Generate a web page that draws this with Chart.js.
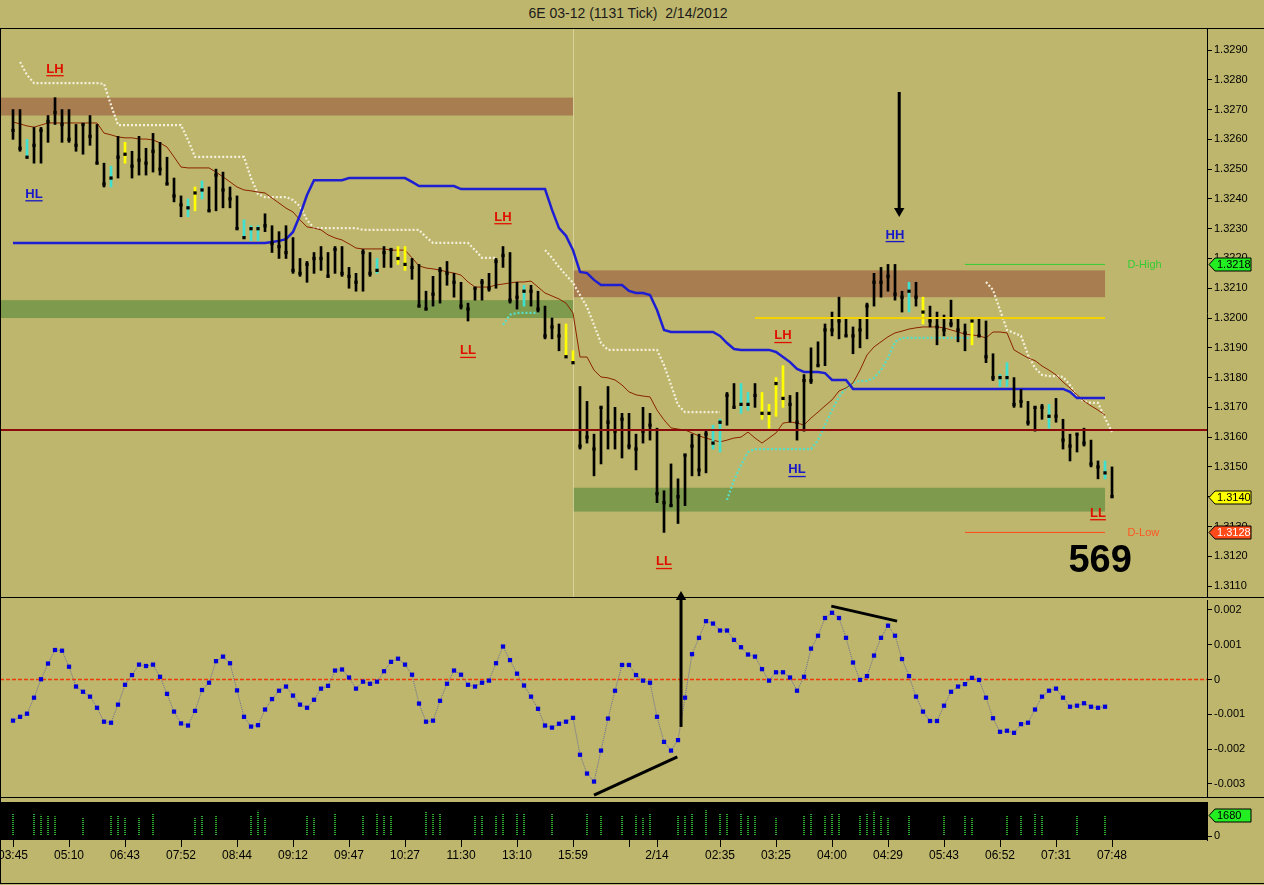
<!DOCTYPE html>
<html>
<head>
<meta charset="utf-8">
<script src="https://cdn.jsdelivr.net/npm/chart.js@4.4.1/dist/chart.umd.min.js"></script>
<style>
body{margin:0;background:#BDB66C;width:1264px;height:885px;overflow:hidden;position:relative;font-family:"Liberation Sans",Arial,sans-serif}
canvas{position:absolute;left:0}
#title{position:absolute;top:5px;left:-4px;width:1264px;text-align:center;font-size:14px;color:#1a1a1a;white-space:pre}
.hl{position:absolute;left:0;width:1264px;height:1px;background:#000}
.vl{position:absolute;left:0;top:28px;width:1px;height:856px;background:#000}
</style>
</head>
<body>
<div id="title">6E 03-12 (1131 Tick)  2/14/2012</div>
<canvas id="price" width="1264" height="570" style="top:28px"></canvas>
<canvas id="osc" width="1264" height="212" style="top:588px"></canvas>
<canvas id="vol" width="1264" height="87" style="top:798px"></canvas>
<div class="hl" style="top:28px"></div>
<div class="hl" style="top:597px"></div>
<div class="hl" style="top:797px"></div>
<div class="hl" style="top:883px"></div>
<div class="vl"></div>
<script>
const N = null;

//-----EJE X (una barra por índice)
const xMin = -1.86, xMax = 170.57;
const xTickBars = [0, 8, 16, 24, 32, 40, 48, 56, 64, 72, 80, 88, 92, 101, 109, 117, 125, 133, 141, 149, 157];
const xTickText = ['03:45', '05:10', '06:43', '07:52', '08:44', '09:12', '09:47', '10:27', '11:30', '13:10', '15:59', '',
    '2/14', '02:35', '03:25', '04:00', '04:29', '05:43', '06:52', '07:31', '07:48'];

//-----PRECIOS
const priceTicks = [1.3110, 1.3120, 1.3130, 1.3140, 1.3150, 1.3160, 1.3170, 1.3180, 1.3190, 1.3200,
    1.3210, 1.3220, 1.3230, 1.3240, 1.3250, 1.3260, 1.3270, 1.3280, 1.3290];

const highs = [1.3270,1.3270,1.3260,1.3264,1.3264,1.3268,1.3274,1.3270,1.3270,1.3265,
    1.3265,1.3268,1.3265,1.3252,1.3251,1.3261,1.3259,1.3256,1.3261,1.3257,
    1.3262,1.3259,1.3254,1.3247,1.3241,1.3240,1.3244,1.3246,1.3244,1.3250,
    1.3249,1.3244,1.3241,1.3233,1.3231,1.3231,1.3235,1.3231,1.3229,1.3231,
    1.3227,1.3220,1.3219,1.3222,1.3224,1.3222,1.3224,1.3224,1.3217,1.3215,
    1.3223,1.3222,1.3220,1.3224,1.3223,1.3224,1.3224,1.3220,1.3218,1.3209,
    1.3214,1.3217,1.3219,1.3215,1.3212,1.3205,1.3210,1.3213,1.3215,1.3220,
    1.3224,1.3222,1.3212,1.3211,1.3211,1.3209,1.3204,1.3200,1.3198,1.3198,
    1.3189,1.3177,1.3172,1.3161,1.3170,1.3177,1.3170,1.3168,1.3168,1.3161,
    1.3170,1.3168,1.3163,1.3142,1.3151,1.3146,1.3154,1.3161,1.3161,1.3162,
    1.3164,1.3166,1.3175,1.3178,1.3178,1.3175,1.3178,1.3175,1.3171,1.3180,
    1.3184,1.3174,1.3175,1.3181,1.3190,1.3192,1.3198,1.3202,1.3207,1.3200,
    1.3197,1.3200,1.3205,1.3215,1.3217,1.3218,1.3218,1.3209,1.3212,1.3212,
    1.3207,1.3204,1.3202,1.3201,1.3206,1.3200,1.3198,1.3200,1.3200,1.3199,
    1.3188,1.3181,1.3185,1.3180,1.3176,1.3172,1.3170,1.3171,1.3171,1.3173,
    1.3166,1.3161,1.3161,1.3163,1.3159,1.3152,1.3152,1.3150]

const lows = [1.3260,1.3256,1.3254,1.3252,1.3252,1.3259,1.3265,1.3259,1.3259,1.3256,
    1.3255,1.3258,1.3252,1.3244,1.3244,1.3247,1.3252,1.3247,1.3248,1.3248,
    1.3249,1.3248,1.3245,1.3239,1.3234,1.3234,1.3236,1.3240,1.3236,1.3236,
    1.3237,1.3237,1.3230,1.3227,1.3226,1.3226,1.3229,1.3222,1.3220,1.3220,
    1.3215,1.3214,1.3212,1.3215,1.3216,1.3214,1.3215,1.3214,1.3210,1.3209,
    1.3209,1.3214,1.3215,1.3217,1.3217,1.3218,1.3216,1.3213,1.3204,1.3203,
    1.3204,1.3205,1.3211,1.3207,1.3203,1.3199,1.3206,1.3206,1.3209,1.3210,
    1.3217,1.3205,1.3203,1.3204,1.3204,1.3202,1.3193,1.3193,1.3189,1.3187,
    1.3185,1.3156,1.3158,1.3147,1.3151,1.3156,1.3156,1.3153,1.3156,1.3149,
    1.3158,1.3159,1.3138,1.3128,1.3137,1.3131,1.3137,1.3147,1.3147,1.3148,
    1.3156,1.3155,1.3164,1.3170,1.3168,1.3169,1.3170,1.3166,1.3163,1.3167,
    1.3170,1.3165,1.3159,1.3162,1.3178,1.3184,1.3184,1.3194,1.3193,1.3194,
    1.3188,1.3190,1.3193,1.3204,1.3207,1.3209,1.3206,1.3202,1.3202,1.3204,
    1.3198,1.3197,1.3191,1.3194,1.3197,1.3192,1.3189,1.3191,1.3194,1.3185,
    1.3179,1.3177,1.3177,1.3170,1.3170,1.3164,1.3162,1.3166,1.3163,1.3165,
    1.3156,1.3152,1.3155,1.3157,1.3150,1.3146,1.3146,1.3140]

const closes = [1.3263,1.3257,1.3254,1.3258,1.3263,1.3266,1.3269,1.3265,1.3260,1.3258,
    1.3265,1.3261,1.3252,1.3245,1.3247,1.3254,1.3255,1.3251,1.3253,1.3252,
    1.3256,1.3250,1.3245,1.3241,1.3238,1.3237,1.3242,1.3243,1.3236,1.3248,
    1.3243,1.3240,1.3230,1.3227,1.3230,1.3230,1.3231,1.3225,1.3224,1.3222,
    1.3216,1.3215,1.3218,1.3220,1.3220,1.3214,1.3223,1.3215,1.3214,1.3212,
    1.3222,1.3215,1.3216,1.3222,1.3223,1.3220,1.3218,1.3217,1.3204,1.3203,
    1.3208,1.3216,1.3215,1.3212,1.3204,1.3203,1.3210,1.3212,1.3210,1.3219,
    1.3221,1.3206,1.3207,1.3209,1.3209,1.3203,1.3194,1.3197,1.3194,1.3187,
    1.3185,1.3157,1.3160,1.3156,1.3170,1.3165,1.3162,1.3166,1.3157,1.3156,
    1.3162,1.3164,1.3141,1.3138,1.3137,1.3140,1.3154,1.3157,1.3149,1.3161,
    1.3158,1.3165,1.3174,1.3170,1.3171,1.3171,1.3174,1.3168,1.3168,1.3178,
    1.3173,1.3171,1.3165,1.3179,1.3179,1.3184,1.3196,1.3196,1.3199,1.3194,
    1.3194,1.3196,1.3204,1.3212,1.3212,1.3214,1.3208,1.3207,1.3209,1.3207,
    1.3202,1.3199,1.3197,1.3196,1.3198,1.3196,1.3195,1.3199,1.3194,1.3187,
    1.3180,1.3180,1.3180,1.3171,1.3172,1.3165,1.3170,1.3170,1.3167,1.3167,
    1.3159,1.3157,1.3161,1.3158,1.3151,1.3150,1.3148,1.3140]

const cyanBars = [2, 14, 25, 27, 33, 34, 35, 52, 73, 100, 101, 104, 105, 128, 141, 142, 148, 156];
const yellowBars = [16, 26, 55, 56, 79, 80, 107, 108, 109, 110, 130, 137];

//-----INDICADORES
const blueLine = [1.32252,1.32252,1.32252,1.32252,1.32252,1.32252,1.32252,1.32252,1.32252,1.32252,
    1.32252,1.32252,1.32252,1.32252,1.32252,1.32252,1.32252,1.32252,1.32252,1.32252,
    1.32252,1.32252,1.32252,1.32252,1.32252,1.32252,1.32252,1.32252,1.32252,1.32252,
    1.32252,1.32252,1.32252,1.32252,1.32252,1.32252,1.32252,1.32255,1.32259,1.32265,
    1.32289,1.32346,1.32413,1.32463,1.32463,1.32463,1.32463,1.32463,1.32470,1.32470,
    1.32470,1.32470,1.32470,1.32470,1.32470,1.32470,1.32470,1.32457,1.32443,1.32443,
    1.32443,1.32443,1.32443,1.32443,1.32433,1.32433,1.32433,1.32433,1.32433,1.32433,
    1.32433,1.32433,1.32433,1.32433,1.32433,1.32433,1.32433,1.32363,1.32302,1.32276,
    1.32228,1.32155,1.32151,1.32128,1.32111,1.32111,1.32111,1.32111,1.32091,1.32084,
    1.32084,1.32077,1.32027,1.31960,1.31953,1.31953,1.31953,1.31953,1.31953,1.31953,
    1.31953,1.31940,1.31916,1.31896,1.31893,1.31893,1.31893,1.31893,1.31893,1.31886,
    1.31869,1.31852,1.31829,1.31819,1.31819,1.31819,1.31815,1.31792,1.31792,1.31792,
    1.31762,1.31762,1.31762,1.31762,1.31762,1.31762,1.31762,1.31762,1.31762,1.31762,
    1.31762,1.31762,1.31762,1.31762,1.31762,1.31762,1.31762,1.31762,1.31762,1.31762,
    1.31762,1.31762,1.31762,1.31762,1.31762,1.31762,1.31762,1.31762,1.31762,1.31762,
    1.31762,1.31752,1.31731,1.31731,1.31731,1.31731,1.31731,N]

const maLine = [1.32658,1.32652,1.32645,1.32641,1.32648,1.32655,1.32655,1.32655,1.32655,1.32655,
    1.32655,1.32655,1.32655,1.32621,1.32615,1.32608,1.32605,1.32605,1.32601,1.32601,
    1.32598,1.32588,1.32574,1.32541,1.32507,1.32504,1.32504,1.32504,1.32504,1.32490,
    1.32474,1.32457,1.32440,1.32430,1.32427,1.32423,1.32420,1.32403,1.32386,1.32369,
    1.32356,1.32329,1.32306,1.32302,1.32296,1.32279,1.32269,1.32262,1.32249,1.32235,
    1.32232,1.32232,1.32232,1.32232,1.32228,1.32228,1.32228,1.32202,1.32175,1.32168,
    1.32165,1.32161,1.32155,1.32151,1.32144,1.32121,1.32104,1.32104,1.32104,1.32111,
    1.32114,1.32118,1.32121,1.32121,1.32124,1.32104,1.32084,1.32074,1.32064,1.32050,
    1.32017,1.31869,1.31869,1.31825,1.31802,1.31799,1.31792,1.31775,1.31752,1.31742,
    1.31738,1.31735,1.31691,1.31658,1.31631,1.31627,1.31624,1.31614,1.31604,1.31597,
    1.31590,1.31584,1.31590,1.31597,1.31600,1.31617,1.31597,1.31580,1.31597,1.31614,
    1.31647,1.31651,1.31647,1.31641,1.31664,1.31684,1.31705,1.31725,1.31755,1.31765,
    1.31782,1.31825,1.31876,1.31903,1.31920,1.31937,1.31950,1.31956,1.31963,1.31967,
    1.31970,1.31970,1.31970,1.31967,1.31960,1.31953,1.31946,1.31943,1.31940,1.31933,
    1.31953,1.31953,1.31950,1.31893,1.31879,1.31866,1.31857,1.31839,1.31825,1.31809,
    1.31785,1.31765,1.31742,1.31721,1.31705,1.31691,1.31674,N]

const shortStop = [N,1.32860,1.32816,1.32789,1.32789,1.32789,1.32789,1.32789,1.32789,1.32789,
    1.32789,1.32789,1.32789,1.32786,1.32715,1.32648,1.32648,1.32648,1.32648,1.32648,
    1.32648,1.32648,1.32648,1.32648,1.32648,1.32598,1.32541,1.32541,1.32541,1.32541,
    1.32541,1.32541,1.32541,1.32541,1.32470,1.32416,1.32406,1.32406,1.32406,1.32406,
    1.32396,1.32375,1.32329,1.32302,1.32302,1.32302,1.32302,1.32302,1.32302,1.32302,
    1.32296,1.32296,1.32296,1.32296,1.32296,1.32296,1.32296,1.32296,1.32296,1.32272,
    1.32252,1.32252,1.32252,1.32252,1.32252,1.32252,1.32228,1.32202,1.32202,1.32202,
    N,N,N,N,N,N,1.32228,1.32202,1.32171,1.32144,
    1.32118,1.32077,1.32037,1.31977,1.31916,1.31893,1.31893,1.31893,1.31893,1.31893,
    1.31893,1.31893,1.31893,1.31842,1.31775,1.31708,1.31684,1.31684,1.31684,1.31684,
    1.31684,1.31684,N,N,N,N,N,N,N,N,
    N,N,N,N,N,N,N,N,N,N,
    N,N,N,N,N,N,N,N,N,N,
    N,N,N,N,N,N,N,N,N,1.32121,
    1.32094,1.32027,1.31960,1.31950,1.31940,1.31876,1.31832,1.31809,1.31805,1.31805,
    1.31802,1.31775,1.31735,1.31721,1.31715,1.31715,1.31664,1.31617]

const longStop = [N,N,N,N,N,N,N,N,N,N, N,N,N,N,N,N,N,N,N,N,
    N,N,N,N,N,N,N,N,N,N, N,N,N,N,N,N,N,N,N,N,
    N,N,N,N,N,N,N,N,N,N, N,N,N,N,N,N,N,N,N,N,
    N,N,N,N,N,N,N,N,N,N,
    1.31977,1.32011,1.32017,1.32017,1.32017,1.32017,N,N,N,N,
    N,N,N,N,N,N,N,N,N,N, N,N,N,N,N,N,N,N,N,N,
    N,N,1.31389,1.31456,1.31506,1.31550,1.31560,1.31560,1.31560,1.31560,
    1.31560,1.31560,1.31560,1.31560,1.31560,1.31590,1.31641,1.31691,1.31735,1.31765,
    1.31782,1.31789,1.31789,1.31799,1.31825,1.31866,1.31920,1.31933,1.31933,1.31933,
    1.31933,1.31933,1.31933,1.31933,1.31933,1.31933,1.31933,1.31933,N,N,
    N,N,N,N,N,N,N,N,N,N, N,N,N,N,N,N,N,N]

//-----NIVELES Y ZONAS
const levelPrice = 1.31624;
const pivotPrice = 1.3200, pivotFrom = 106, pivotTo = 156;
const dayLevels = [1.3218, 1.3128];
const dayNames = ['D-High', 'D-Low'];
const dayFrom = 136, dayTo = 156, dayLabelBar = 159.2;
const supplyZones = [[xMin, 80, 1.3268, 1.3274], [80, 156, 1.3207, 1.3216]];
const demandZones = [[xMin, 80, 1.3200, 1.3206], [80, 156, 1.3135, 1.3143]];
const sessionBar = 80;

//-----NOTAS
const noteText = ['LH', 'HL', 'LH', 'LL', 'LH', 'HH', 'HL', 'LL', 'LL'];
const noteBar = [6, 3, 70, 65, 110, 126, 112, 93, 155];
const notePrice = [1.32836, 1.32416, 1.32339, 1.3189, 1.3194, 1.32279, 1.3149, 1.31181, 1.31345];
const countText = '569', countBar = 155.3, countPrice = 1.31181;
const arrowBar = 126.6, arrowFrom = 1.32759, arrowTo = 1.32359;
const priceTags = [1.3218, 1.3140, 1.3128];

//-----OSCILADOR
const oscTicks = [0.002, 0.001, 0, -0.001, -0.002, -0.003];
const osc = [-0.00118,-0.00107,-0.00098,-0.00052,0.00001,0.00046,0.00085,0.00083,0.00037,-0.00020,
    -0.00035,-0.00049,-0.00081,-0.00121,-0.00124,-0.00072,-0.00015,0.00013,0.00043,0.00039,
    0.00043,0.00008,-0.00041,-0.00092,-0.00126,-0.00132,-0.00090,-0.00030,-0.00009,0.00053,
    0.00066,0.00047,-0.00031,-0.00107,-0.00135,-0.00131,-0.00086,-0.00056,-0.00032,-0.00020,
    -0.00046,-0.00072,-0.00081,-0.00058,-0.00026,-0.00018,0.00026,0.00029,0.00006,-0.00026,
    -0.00006,-0.00012,-0.00006,0.00024,0.00051,0.00060,0.00043,0.00014,-0.00069,-0.00121,
    -0.00118,-0.00061,-0.00012,0.00026,0.00014,-0.00015,-0.00020,-0.00009,-0.00003,0.00047,
    0.00095,0.00056,0.00017,-0.00017,-0.00049,-0.00084,-0.00132,-0.00138,-0.00127,-0.00121,
    -0.00110,-0.00216,-0.00270,-0.00293,-0.00204,-0.00112,-0.00032,0.00042,0.00042,0.00013,
    -0.00003,-0.00009,-0.00107,-0.00179,-0.00204,-0.00174,-0.00052,0.00073,0.00120,0.00168,
    0.00161,0.00141,0.00141,0.00114,0.00093,0.00072,0.00066,0.00030,-0.00003,0.00021,
    0.00021,0.00006,-0.00032,0.00008,0.00089,0.00126,0.00177,0.00192,0.00177,0.00120,
    0.00049,-0.00001,0.00010,0.00069,0.00120,0.00155,0.00126,0.00059,0.00010,-0.00049,
    -0.00092,-0.00119,-0.00119,-0.00075,-0.00035,-0.00020,-0.00013,0.00005,-0.00001,-0.00052,
    -0.00111,-0.00150,-0.00147,-0.00153,-0.00128,-0.00124,-0.00086,-0.00049,-0.00032,-0.00026,
    -0.00052,-0.00078,-0.00075,-0.00068,-0.00078,-0.00081,-0.00078,N]
const divLow = [[83, -0.00332], [94.9, -0.00222]];
const divHigh = [[116.9, 0.00211], [126.3, 0.00168]];
const oscArrowBar = 95.43, oscArrowFrom = -0.00136, oscArrowTo = 0.00237;

//-----VOLUMEN
const volBars = [0,3,4,5,6,10,14,15,16,18,20,26,27,29,34,35,36,42,43,46,50,52,53,54,59,60,61,66,67,69,70,72,73,77,82,84,87,89,90,91,
    95,96,97,99,101,102,104,105,106,109,113,114,116,117,118,121,122,123,124,125,128,133,136,137,142,144,146,147,152,156];
const volValues = [1810,1810,1680,1630,1550,1470,1630,1630,1410,1470,1810,1470,1630,1630,1630,2000,1470,1630,1470,1810,1630,1810,1630,1630,1920,1810,1810,1630,1630,1630,1810,1810,1810,1810,1810,1630,1630,1680,1470,1810,
    1630,1630,1810,2080,1810,1810,1810,1630,1630,1470,1630,1810,1630,1810,1810,1630,1810,2000,1630,1470,1630,1630,1630,1470,1630,1630,1810,1630,1630,1630];
const volTag = 1680;

//-----ESTILO GENERAL
const FONT = '"Liberation Sans", Arial, sans-serif';
Chart.defaults.font.family = FONT;
Chart.defaults.font.size = 11;
Chart.defaults.color = '#000';
Chart.defaults.animation = false;

const rightAxisFit = function (scale) {
    scale.width = 57;
    scale.paddingTop = 0; scale.paddingBottom = 0;
}
const hiddenX = { type: 'linear', display: false, min: xMin, max: xMax, offset: false };
const common = {
    responsive: false,
    layout: { padding: 0, autoPadding: false },
    plugins: { legend: { display: false }, tooltip: { enabled: false } },
    events: []
}
const pts = arr => arr.map((v, i) => ({ x: i, y: v }));
const seg = (x0, x1, v) => [{ x: x0, y: v }, { x: x1, y: v }];

function drawTag(ctx, x, y, text, fill, color) {
    ctx.save();
    ctx.beginPath();
    ctx.moveTo(x, y);
    ctx.lineTo(x + 6, y - 6.5);
    ctx.lineTo(x + 42, y - 6.5);
    ctx.lineTo(x + 42, y + 6.5);
    ctx.lineTo(x + 6, y + 6.5);
    ctx.closePath();
    ctx.fillStyle = fill;
    ctx.fill();
    ctx.strokeStyle = '#000';
    ctx.lineWidth = 1;
    ctx.stroke();
    ctx.fillStyle = color;
    ctx.font = '11px ' + FONT;
    ctx.textAlign = 'left';
    ctx.textBaseline = 'middle';
    ctx.fillText(text, x + 8, y + 0.5);
    ctx.restore();
}

//-----GRÁFICO PRECIO
const zonePlugin = {
    id: 'zones',
    beforeDatasetsDraw(chart) {
        const { ctx, scales: { x, y }, chartArea } = chart;
        ctx.save();
        const box = (z, color) => {
            const x0 = x.getPixelForValue(z[0]), x1 = x.getPixelForValue(z[1]);
            const y0 = y.getPixelForValue(z[3]), y1 = y.getPixelForValue(z[2]);
            ctx.fillStyle = color;
            ctx.fillRect(x0, y0, x1 - x0, y1 - y0);
        }
        supplyZones.forEach(z => box(z, '#A87D50'));
        demandZones.forEach(z => box(z, '#7E9A4D'));
        const sx = Math.round(x.getPixelForValue(sessionBar)) + 0.5;
        ctx.strokeStyle = 'rgba(225,220,170,0.75)';
        ctx.lineWidth = 1;
        ctx.beginPath();
        ctx.moveTo(sx, chartArea.top);
        ctx.lineTo(sx, chartArea.bottom);
        ctx.stroke();
        ctx.restore();
    }
}

const notesPlugin = {
    id: 'notes',
    afterDatasetsDraw(chart) {
        const { ctx, scales: { x, y } } = chart;
        ctx.save();
        ctx.textAlign = 'center';
        ctx.textBaseline = 'middle';
        ctx.font = 'bold 13px ' + FONT;
        noteText.forEach((t, k) => {
            const px = x.getPixelForValue(noteBar[k]), py = y.getPixelForValue(notePrice[k]);
            const color = t[0] === 'L' ? '#E01000' : '#1818C8';
            const w = ctx.measureText(t).width;
            ctx.fillStyle = color;
            ctx.fillText(t, px, py);
            ctx.fillRect(px - w / 2, py + 6, w, 1.3);
        });
        ctx.font = '11px ' + FONT;
        ctx.textAlign = 'left';
        ['#33CC33', '#FF5522'].forEach((c, k) => {
            ctx.fillStyle = c;
            ctx.fillText(dayNames[k], x.getPixelForValue(dayLabelBar), y.getPixelForValue(dayLevels[k]) + 1);
        });
        ctx.font = 'bold 38px ' + FONT;
        ctx.textAlign = 'center';
        ctx.fillStyle = '#000';
        ctx.fillText(countText, x.getPixelForValue(countBar), y.getPixelForValue(countPrice));
        ctx.restore();
    },
    afterDraw(chart) {
        const { ctx, scales: { y }, chartArea } = chart;
        drawTag(ctx, chartArea.right + 2, Math.round(y.getPixelForValue(priceTags[0])) + 0.5, priceTags[0].toFixed(4), '#22EE22', '#000');
        drawTag(ctx, chartArea.right + 2, Math.round(y.getPixelForValue(priceTags[1])) + 0.5, priceTags[1].toFixed(4), '#FFFF00', '#000');
        drawTag(ctx, chartArea.right + 2, Math.round(y.getPixelForValue(priceTags[2])) + 0.5, priceTags[2].toFixed(4), '#FF4A1A', '#fff');
    }
}

new Chart(document.getElementById('price'), {
    type: 'bar',
    data: {
        datasets: [
            { type: 'line', data: seg(xMin, xMax, levelPrice), borderColor: '#8B0A0A', borderWidth: 2, pointRadius: 0, order: 0 },
            { type: 'line', data: seg(pivotFrom, pivotTo, pivotPrice), borderColor: '#F2D200', borderWidth: 2, pointRadius: 0, order: 0 },
            { type: 'line', data: seg(dayFrom, dayTo, dayLevels[0]), borderColor: '#33CC33', borderWidth: 1, pointRadius: 0, order: 0 },
            { type: 'line', data: seg(dayFrom, dayTo, dayLevels[1]), borderColor: '#FF4A1A', borderWidth: 1, pointRadius: 0, order: 0 },
            {
                type: 'line', data: [{ x: arrowBar, y: arrowFrom }, { x: arrowBar, y: arrowTo }],
                borderColor: '#000', borderWidth: 3, pointRadius: [0, 6], pointStyle: 'triangle', pointRotation: 180,
                pointBackgroundColor: '#000', pointBorderWidth: 0, order: 0
            },
            {
                type: 'line', data: pts(closes), showLine: false, pointStyle: 'rect', pointRadius: 2.3,
                pointBackgroundColor: '#000', pointBorderWidth: 0, order: 1
            },
            {
                type: 'bar', data: highs.map((h, i) => ({ x: i, y: [lows[i], h] })), barThickness: 2, grouped: false,
                backgroundColor: highs.map((h, i) => cyanBars.includes(i) ? '#3FE0D0' : yellowBars.includes(i) ? '#FFFF00' : '#000'),
                borderWidth: 0, order: 2
            },
            { type: 'line', data: pts(blueLine), borderColor: '#1E1ED2', borderWidth: 2.5, pointRadius: 0, order: 3 },
            { type: 'line', data: pts(maLine), borderColor: '#8B2200', borderWidth: 1, pointRadius: 0, order: 4 },
            { type: 'line', data: pts(shortStop), borderColor: '#F4F0DC', borderWidth: 2.2, borderDash: [2, 2], pointRadius: 0, order: 5 },
            { type: 'line', data: pts(longStop), borderColor: '#55E0CC', borderWidth: 2.2, borderDash: [2, 2], pointRadius: 0, order: 5 }
        ]
    },
    options: {
        ...common,
        scales: {
            x: hiddenX,
            y: {
                position: 'right', min: 1.310598, max: 1.329739,
                afterBuildTicks: s => { s.ticks = priceTicks.map(v => ({ value: v })) },
                afterFit: rightAxisFit,
                grid: { drawOnChartArea: false, tickLength: 5, color: '#000' },
                border: { display: true, color: '#000' },
                ticks: { padding: 2, callback: v => v.toFixed(4) }
            }
        }
    },
    plugins: [zonePlugin, notesPlugin]
});

//-----GRÁFICO OSCILADOR
new Chart(document.getElementById('osc'), {
    type: 'line',
    data: {
        datasets: [
            {
                data: [{ x: oscArrowBar, y: oscArrowFrom }, { x: oscArrowBar, y: oscArrowTo }], clip: false,
                borderColor: '#000', borderWidth: 3, pointRadius: [0, 6], pointStyle: 'triangle',
                pointBackgroundColor: '#000', pointBorderWidth: 0, order: 0
            },
            { data: divLow.map(p => ({ x: p[0], y: p[1] })), borderColor: '#000', borderWidth: 3, pointRadius: 0, order: 0 },
            { data: divHigh.map(p => ({ x: p[0], y: p[1] })), borderColor: '#000', borderWidth: 3, pointRadius: 0, order: 0 },
            {
                data: pts(osc), borderColor: '#6A6A9A', borderWidth: 1, borderDash: [1, 1], pointStyle: 'rect',
                pointRadius: 3, pointBackgroundColor: '#0000DD', pointBorderWidth: 0, order: 1
            },
            { data: seg(xMin, xMax, 0), borderColor: '#F03A0A', borderWidth: 1.5, borderDash: [4, 2], pointRadius: 0, order: 2 }
        ]
    },
    options: {
        ...common,
        layout: { padding: { top: 12, bottom: 3 }, autoPadding: false },
        scales: {
            x: hiddenX,
            y: {
                position: 'right', min: -0.003374, max: 0.002287,
                afterBuildTicks: s => { s.ticks = oscTicks.map(v => ({ value: v })) },
                afterFit: rightAxisFit,
                grid: { drawOnChartArea: false, tickLength: 5, color: '#000' },
                border: { display: true, color: '#000' },
                ticks: { padding: 2, callback: v => v === 0 ? '0' : v.toFixed(3) }
            }
        }
    }
});

//-----GRÁFICO VOLUMEN
const dot = document.createElement('canvas');
dot.width = 1; dot.height = 2;
const dctx = dot.getContext('2d');
dctx.fillStyle = '#36CC36';
dctx.fillRect(0, 0, 1, 1);
const volCanvas = document.getElementById('vol');
const volPattern = volCanvas.getContext('2d').createPattern(dot, 'repeat');

const volPlugin = {
    id: 'volbg',
    beforeDraw(chart) {
        const { ctx, chartArea } = chart;
        ctx.save();
        ctx.fillStyle = '#000';
        ctx.fillRect(chartArea.left, chartArea.top, chartArea.right - chartArea.left, chartArea.bottom - chartArea.top);
        ctx.restore();
    },
    afterDraw(chart) {
        const { ctx, scales: { y }, chartArea } = chart;
        drawTag(ctx, chartArea.right + 2, Math.round(y.getPixelForValue(volTag)) + 0.5, String(volTag), '#22EE22', '#000');
    }
}

new Chart(volCanvas, {
    type: 'bar',
    data: {
        datasets: [{
            data: volBars.map((b, k) => ({ x: b, y: volValues[k] })),
            backgroundColor: volPattern, barThickness: 1, borderWidth: 0, grouped: false
        }]
    },
    options: {
        ...common,
        layout: { padding: { top: 4 }, autoPadding: false },
        scales: {
            x: {
                type: 'linear', min: xMin, max: xMax, offset: false,
                afterBuildTicks: s => { s.ticks = xTickBars.map(v => ({ value: v })) },
                afterFit: s => { s.height = 45; s.paddingLeft = 0; s.paddingRight = 0 },
                grid: { drawOnChartArea: false, offset: false, tickLength: 7, color: '#000' },
                border: { display: false },
                ticks: {
                    autoSkip: false, maxRotation: 0, padding: 1, font: { size: 12 },
                    callback: v => { const k = xTickBars.indexOf(v); return k >= 0 ? xTickText[k] : '' }
                }
            },
            y: {
                position: 'right', min: -320, max: 2720,
                afterBuildTicks: s => { s.ticks = [{ value: 0 }] },
                afterFit: rightAxisFit,
                grid: { drawOnChartArea: false, tickLength: 5, color: '#000' },
                border: { display: true, color: '#000' },
                ticks: { padding: 2 }
            }
        }
    },
    plugins: [volPlugin]
});
</script>
</body>
</html>
